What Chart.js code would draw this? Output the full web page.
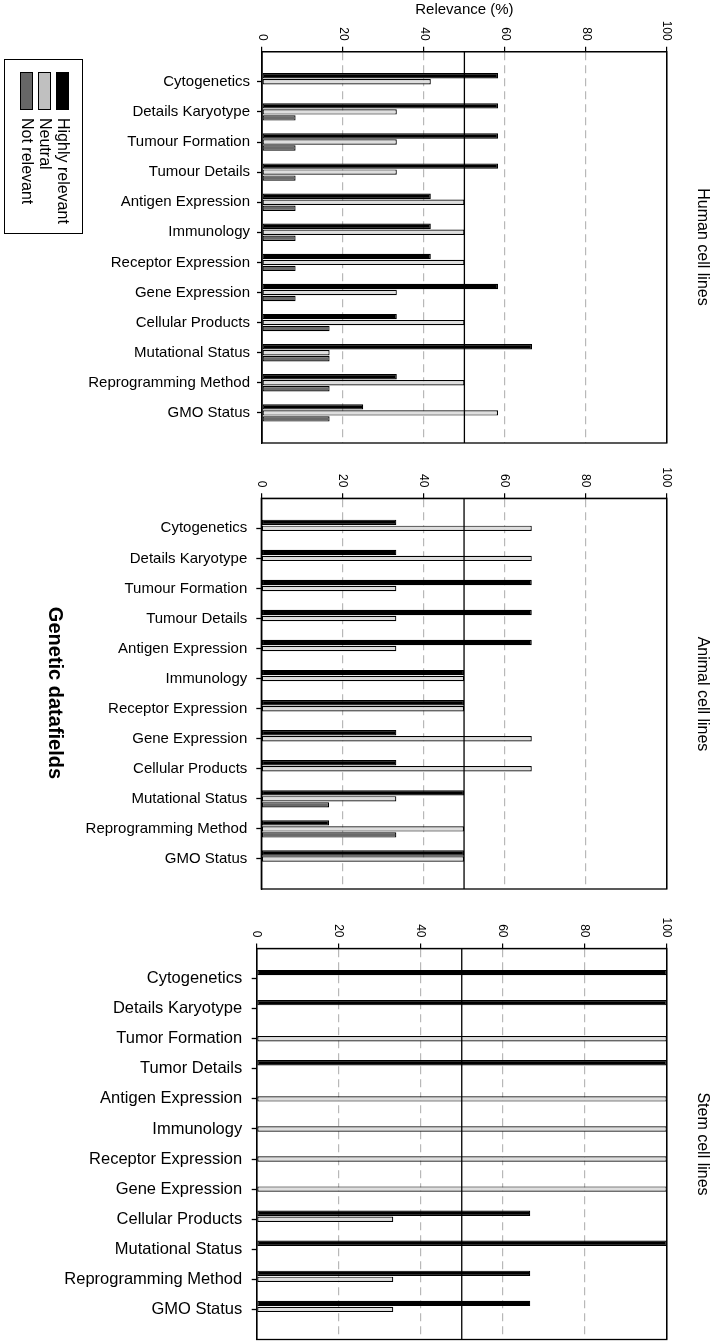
<!DOCTYPE html>
<html>
<head>
<meta charset="utf-8">
<script src="https://cdn.jsdelivr.net/npm/chart.js@4.4.1/dist/chart.umd.min.js"></script>
<style>
  html, body { margin: 0; padding: 0; background: #fff; }
  body { width: 714px; height: 1344px; position: relative; overflow: hidden; font-family: "Liberation Sans", Arial, sans-serif; color: #000; }
  canvas { position: absolute; left: 0; }
  .vt { position: absolute; writing-mode: vertical-rl; white-space: nowrap; transform: translate(-50%, -50%); line-height: 1.15; }
  .legend { position: absolute; left: 4px; top: 59px; width: 79px; height: 175px; border: 1.3px solid #000; box-sizing: border-box; }
  .sw { position: absolute; top: 12px; width: 13px; height: 38px; border: 1.2px solid #000; box-sizing: border-box; }
  .lt { position: absolute; top: 58px; writing-mode: vertical-rl; white-space: nowrap; font-size: 16px; line-height: 1.15; transform: translateX(-50%); }
</style>
</head>
<body>
<canvas id="c1"></canvas>
<canvas id="c2"></canvas>
<canvas id="c3"></canvas>

<div class="legend">
  <div class="sw" style="left:15px;background:#666666"></div>
  <div class="sw" style="left:33px;background:#c0c0c0"></div>
  <div class="sw" style="left:51px;background:#000000"></div>
  <span class="lt" style="left:22px">Not relevant</span>
  <span class="lt" style="left:40px">Neutral</span>
  <span class="lt" style="left:58px">Highly relevant</span>
</div>

<div class="vt" style="left:55px;top:693px;font-size:20px;font-weight:bold;">Genetic datafields</div>
<div class="vt" style="left:703px;top:247px;font-size:16px;">Human cell lines</div>
<div class="vt" style="left:703px;top:694px;font-size:16px;">Animal cell lines</div>
<div class="vt" style="left:703px;top:1144px;font-size:16px;">Stem cell lines</div>

<script>
// ---------- DATA ----------
const categoriesHuman = ['Cytogenetics','Details Karyotype','Tumour Formation','Tumour Details','Antigen Expression','Immunology','Receptor Expression','Gene Expression','Cellular Products','Mutational Status','Reprogramming Method','GMO Status'];
const categoriesAnimal = ['Cytogenetics','Details Karyotype','Tumour Formation','Tumour Details','Antigen Expression','Immunology','Receptor Expression','Gene Expression','Cellular Products','Mutational Status','Reprogramming Method','GMO Status'];
const categoriesStem = ['Cytogenetics','Details Karyotype','Tumor Formation','Tumor Details','Antigen Expression','Immunology','Receptor Expression','Gene Expression','Cellular Products','Mutational Status','Reprogramming Method','GMO Status'];

const humanHigh    = [58.3, 58.3, 58.3, 58.3, 41.7, 41.7, 41.7, 58.3, 33.3, 66.7, 33.3, 25.0];
const humanNeutral = [41.7, 33.3, 33.3, 33.3, 50.0, 50.0, 50.0, 33.3, 50.0, 16.7, 50.0, 58.3];
const humanNot     = [0, 8.3, 8.3, 8.3, 8.3, 8.3, 8.3, 8.3, 16.7, 16.7, 16.7, 16.7];

const animalHigh    = [33.3, 33.3, 66.7, 66.7, 66.7, 50.0, 50.0, 33.3, 33.3, 50.0, 16.7, 50.0];
const animalNeutral = [66.7, 66.7, 33.3, 33.3, 33.3, 50.0, 50.0, 66.7, 66.7, 33.3, 50.0, 50.0];
const animalNot     = [0, 0, 0, 0, 0, 0, 0, 0, 0, 16.7, 33.3, 0];

const stemHigh    = [100, 100, 0, 100, 0, 0, 0, 0, 66.7, 100, 66.7, 66.7];
const stemNeutral = [0, 0, 100, 0, 100, 100, 100, 100, 33.3, 0, 33.3, 33.3];
const stemNot     = [0, 0, 0, 0, 0, 0, 0, 0, 0, 0, 0, 0];

const xTicks = [0, 20, 40, 60, 80, 100];
const referenceLine = 50;
const seriesNames = ['Highly relevant', 'Neutral', 'Not relevant'];
const axisTitle = 'Relevance (%)';

// ---------- STYLE ----------
const fills = ['#000000', '#dedede', '#6a6a6a'];
const FONT = '"Liberation Sans", Arial, sans-serif';

const pad = arr => [null, ...arr, null];
const padL = arr => ['', ...arr, ''];

const framePlugin = {
  id: 'frame',
  afterDatasetsDraw(chart) {
    const {ctx, chartArea: a} = chart;
    const xs = chart.scales.x;
    ctx.save();
    ctx.strokeStyle = '#000';
    ctx.lineWidth = 1.3;
    const px = xs.getPixelForValue(referenceLine);
    ctx.beginPath();
    ctx.moveTo(px, a.top);
    ctx.lineTo(px, a.bottom);
    ctx.stroke();
    ctx.strokeRect(a.left, a.top, a.right - a.left, a.bottom - a.top);
    ctx.restore();
  },
  afterDraw(chart) {
    const {ctx} = chart;
    const xs = chart.scales.x;
    ctx.save();
    ctx.fillStyle = '#000';
    ctx.font = '12px ' + FONT;
    ctx.textAlign = 'right';
    ctx.textBaseline = 'middle';
    xs.ticks.forEach(t => {
      const px = xs.getPixelForValue(t.value);
      ctx.save();
      ctx.translate(px, xs.bottom - 11);
      ctx.rotate(Math.PI / 2);
      ctx.fillText(String(t.value), 0, 0);
      ctx.restore();
    });
    ctx.restore();
  }
};

function makePanel(id, top, height, cfg) {
  const cv = document.getElementById(id);
  cv.style.top = top + 'px';
  cv.width = 714; cv.height = height;
  cv.style.width = '714px'; cv.style.height = height + 'px';
  const nLab = cfg.labels.length + 2;
  new Chart(cv, {
    type: 'bar',
    data: {
      labels: padL(cfg.labels),
      datasets: [
        { label: seriesNames[0], data: pad(cfg.high), backgroundColor: fills[0] },
        { label: seriesNames[1], data: pad(cfg.neutral), backgroundColor: fills[1] },
        { label: seriesNames[2], data: pad(cfg.not), backgroundColor: fills[2] }
      ]
    },
    options: {
      indexAxis: 'y',
      responsive: false,
      animation: false,
      devicePixelRatio: 1,
      layout: { padding: { left: 0, right: 714 - cfg.right, top: 0, bottom: height - cfg.bottom } },
      datasets: { bar: { barThickness: 6, maxBarThickness: 5.4, borderWidth: 1.2, borderColor: '#000', borderSkipped: false, inflateAmount: 0 } },
      plugins: { legend: { display: false }, tooltip: { enabled: false } },
      scales: {
        x: {
          type: 'linear', position: 'top', min: 0, max: 100,
          afterBuildTicks: s => { s.ticks = xTicks.map(v => ({ value: v })); },
          afterFit: s => { s.height = cfg.top; s.paddingLeft = 0; s.paddingRight = 0; },
          ticks: { display: false },
          grid: {
            color: c => (c.tick && (c.tick.value === 0 || c.tick.value === 100)) ? '#000' : '#b8b8b8',
            lineWidth: 1.2,
            drawTicks: true, tickLength: 5, tickColor: '#000', tickWidth: 1.2
          },
          border: {
            display: true, color: '#000', width: 1.3,
            dash: c => (c.tick && c.tick.value !== 0 && c.tick.value !== 100) ? [8, 5] : []
          },
          title: cfg.title ? { display: true, text: axisTitle, color: '#000', font: { family: FONT, size: 15 }, padding: { top: 1, bottom: 0 } } : { display: false }
        },
        y: {
          type: 'category', offset: false,
          afterFit: s => { s.width = cfg.left; s.paddingTop = 0; s.paddingBottom = 0; },
          ticks: { autoSkip: false, color: '#000', padding: cfg.tickPad, font: { family: FONT, size: cfg.fontSize } },
          grid: {
            offset: false,
            drawOnChartArea: false, drawTicks: true, tickLength: 5, tickWidth: 1.3,
            tickColor: c => (c.index === 0 || c.index === nLab - 1) ? 'rgba(0,0,0,0)' : '#000'
          },
          border: { display: true, color: '#000', width: 1.3 }
        }
      }
    },
    plugins: [framePlugin]
  });
}

makePanel('c1', 0, 455, { labels: categoriesHuman, high: humanHigh, neutral: humanNeutral, not: humanNot,
  left: 262, right: 666.8, top: 51.7, bottom: 443, tickPad: 7, fontSize: 15, title: true });
makePanel('c2', 455, 445, { labels: categoriesAnimal, high: animalHigh, neutral: animalNeutral, not: animalNot,
  left: 261.3, right: 666.8, top: 498.3 - 455, bottom: 889 - 455, tickPad: 9, fontSize: 15, title: false });
makePanel('c3', 900, 444, { labels: categoriesStem, high: stemHigh, neutral: stemNeutral, not: stemNot,
  left: 256.7, right: 666.8, top: 948.5 - 900, bottom: 1339.5 - 900, tickPad: 9.5, fontSize: 16.5, title: false });
</script>
</body>
</html>
